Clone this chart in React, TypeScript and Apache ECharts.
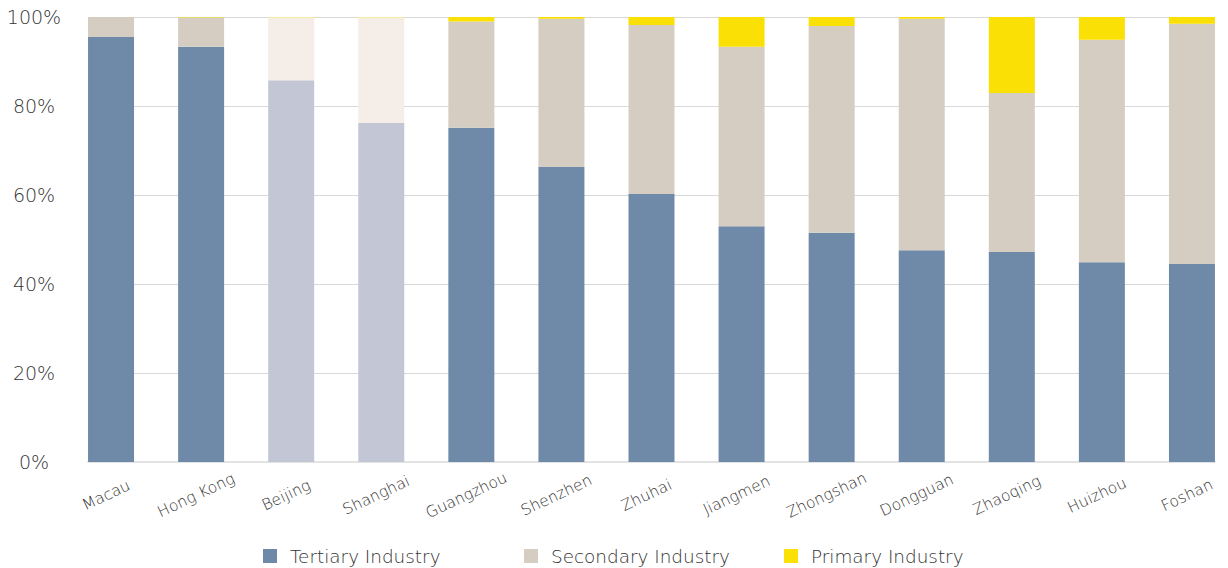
import React, { useEffect, useRef } from "react";
import * as echarts from "echarts";

const categories = ["Macau", "Hong Kong", "Beijing", "Shanghai", "Guangzhou", "Shenzhen", "Zhuhai", "Jiangmen", "Zhongshan", "Dongguan", "Zhaoqing", "Huizhou", "Foshan"];
const tertiary = [95.5, 93.3, 85.8, 76.2, 75.1, 66.3, 60.2, 53.0, 51.5, 47.6, 47.2, 44.9, 44.5];
const secondary = [4.5, 6.6, 13.9, 23.5, 23.9, 33.3, 38.0, 40.3, 46.5, 52.0, 35.7, 50.0, 54.0];
const primary = [0.0, 0.1, 0.3, 0.3, 1.0, 0.4, 1.8, 6.7, 2.0, 0.4, 17.1, 5.1, 1.5];
const highlighted = ["Beijing", "Shanghai"];
const yTicks = [0, 20, 40, 60, 80, 100];

const seriesDefs = [
  { name: "Tertiary Industry", values: tertiary, color: "#6f8aa8", light: "#c3c7d5" },
  { name: "Secondary Industry", values: secondary, color: "#d5cdc2", light: "#f5ede7" },
  { name: "Primary Industry", values: primary, color: "#fbe006", light: "#f8eba8" },
];
const legendLefts = [263, 524, 784];

const WIDE = "'DejaVu Sans', sans-serif";

export default function App() {
  const ref = useRef<HTMLDivElement>(null);
  useEffect(() => {
    document.body.style.margin = "0";
    const chart = echarts.init(ref.current!, null, { renderer: "svg" });
    chart.setOption({
      animation: false,
      backgroundColor: "#ffffff",
      grid: [
        { left: 66, width: 1171, top: 17, bottom: 106 },
        { left: 88, right: 25, top: 17, bottom: 106 },
      ],
      legend: seriesDefs.map((s, i) => ({
        top: 547,
        left: legendLefts[i],
        padding: 0,
        itemWidth: 14,
        itemHeight: 14,
        icon: "rect",
        textStyle: {
          fontFamily: WIDE,
          fontSize: 18.4,
          fontWeight: 200,
          color: "#333333",
          padding: [0, 0, 0, 8],
        },
        data: [{ name: s.name, itemStyle: { color: s.color } }],
      })),
      xAxis: [
        {
          type: "category",
          gridIndex: 0,
          data: categories,
          axisLine: { show: false },
          axisTick: { show: false },
          axisLabel: {
            rotate: 25,
            align: "center",
            verticalAlign: "middle",
            margin: 31,
            interval: 0,
            padding: [0, 11, 0, 0],
            fontFamily: WIDE,
            fontSize: 15.5,
            fontWeight: 200,
            color: "#333333",
          },
        },
        {
          type: "value",
          gridIndex: 1,
          min: 0,
          max: 1,
          axisLine: { show: true, lineStyle: { color: "#e3e3e3", width: 2 } },
          axisTick: { show: false },
          axisLabel: { show: false },
          splitLine: { show: false },
        },
      ],
      yAxis: [
        {
          type: "value",
          gridIndex: 0,
          min: 0,
          max: 100,
          interval: 20,
          show: false,
        },
        {
          type: "value",
          gridIndex: 1,
          min: yTicks[0],
          max: yTicks[yTicks.length - 1],
          interval: 20,
          axisLine: { show: false },
          axisTick: { show: false },
          axisLabel: {
            formatter: (v: number) => v + "%",
            align: "center",
            margin: 54,
            fontFamily: WIDE,
            fontSize: 19,
            fontWeight: 200,
            color: "#333333",
          },
          splitLine: { lineStyle: { color: "#d9d9d9", width: 1 } },
        },
      ],
      series: seriesDefs.map((s) => ({
        name: s.name,
        type: "bar",
        stack: "total",
        xAxisIndex: 0,
        yAxisIndex: 0,
        barWidth: 46,
        itemStyle: { color: s.color },
        data: s.values.map((v, i) => ({
          value: v,
          itemStyle: { color: highlighted.includes(categories[i]) ? s.light : s.color },
        })),
      })),
    });
    return () => chart.dispose();
  }, []);
  return (
    <div style={{ position: "absolute", left: 0, top: 0, width: 1228, height: 568, overflow: "hidden" }}>
      <div ref={ref} style={{ width: 1240, height: 568 }} />
    </div>
  );
}
